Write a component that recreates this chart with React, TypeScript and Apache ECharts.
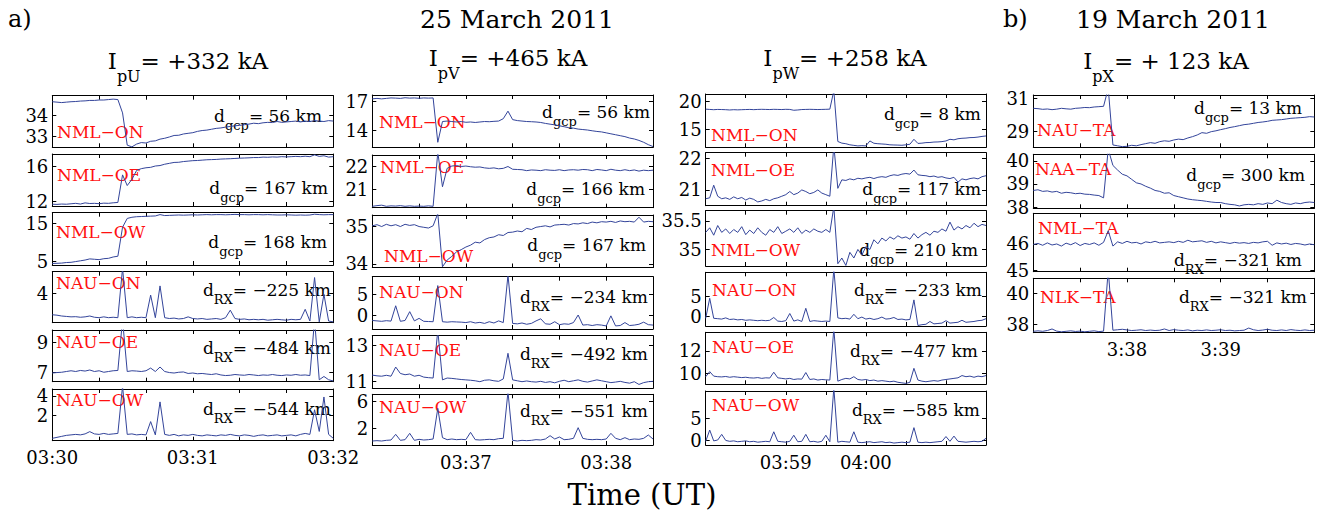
import React, { useEffect, useRef } from 'react';
import * as echarts from 'echarts';

const SERIF = 'DejaVu Serif';
const LINE_COLOR = '#33449a';
const RED = '#ff1010';

// ---------- time axes (seconds of day) ----------
const col1Start = 12600; const col1Step = 2; // 03:30:00, 2 s samples
const col2Start = 12980; const col2Step = 2; // 03:36:20
const col3Start = 14280; const col3Step = 3; // 03:58:00
const col4Start = 13020; const col4Step = 3; // 03:37:00

const col1Ticks = [12620, 12640, 12660, 12680, 12700];
const col2Ticks = [13000, 13020, 13040, 13060, 13080];
const col3Ticks = [14310, 14340, 14370, 14400, 14430, 14460];
const col4Ticks = [13050, 13080, 13110, 13140, 13170];

const col1Labels = [12600, 12660, 12720];
const col2Labels = [13020, 13080];
const col3Labels = [14340, 14400];
const col4Labels = [13080, 13140];

// ---------- column a1 (25 March 2011, U) ----------
const c1NmlOn = [
  34.62, 34.6, 34.58, 34.6, 34.62, 34.63, 34.65, 34.66, 34.68, 34.68,
  34.7, 34.7, 34.72, 34.74, 34.72, 34.1, 32.6, 32.52, 32.65, 32.72,
  32.7, 32.78, 32.8, 32.88, 32.92, 32.98, 33.05, 33.06, 33.12, 33.15,
  33.18, 33.24, 33.28, 33.3, 33.34, 33.38, 33.4, 33.44, 33.47, 33.5,
  33.52, 33.55, 33.58, 33.62, 33.6, 33.64, 33.66, 33.65, 33.7, 33.66,
  33.68, 33.7, 33.72, 33.68, 33.72, 33.7, 33.74, 33.72, 33.7, 33.74,
  33.72,
];
const c1NmlOe = [
  11.7, 11.68, 11.72, 11.7, 11.75, 11.8, 11.72, 11.85, 11.78, 11.8,
  11.76, 11.82, 11.8, 11.86, 11.9, 15.0, 13.8, 14.5, 15.5, 15.7,
  15.8, 15.85, 16.0, 16.05, 16.2, 16.3, 16.4, 16.42, 16.5, 16.55,
  16.6, 16.62, 16.66, 16.7, 16.72, 16.74, 16.78, 16.8, 16.82, 16.85,
  16.88, 16.9, 16.92, 16.95, 16.95, 17.0, 16.98, 17.02, 17.0, 17.05,
  17.02, 17.05, 17.08, 17.05, 17.1, 17.05, 17.25, 17.08, 17.15, 17.0,
  17.05,
];
const c1NmlOw = [
  4.5, 4.55, 4.6, 4.75, 4.8, 5.0, 5.2, 5.4, 5.7, 5.6,
  5.5, 5.75, 5.85, 6.2, 6.4, 14.0, 16.3, 16.6, 16.75, 16.8,
  16.85, 16.9, 16.95, 17.3, 17.05, 17.1, 17.15, 17.2, 17.15, 17.2,
  17.25, 17.2, 17.25, 17.3, 17.25, 17.3, 17.3, 17.25, 17.3, 17.35,
  17.3, 17.3, 17.25, 17.3, 17.3, 17.25, 17.3, 17.25, 17.2, 17.2,
  17.25, 17.2, 17.15, 17.2, 17.15, 17.2, 17.4, 17.3, 17.25, 17.3,
  17.3,
];
const c1NauOn = [
  1.45, 1.4, 1.3, 1.25, 1.2, 1.22, 1.15, 1.2, 1.3, 1.15,
  1.1, 1.2, 1.1, 1.15, 1.1, 7.0, 1.1, 1.2, 1.1, 1.15,
  1.1, 3.8, 1.1, 4.9, 1.1, 1.0, 1.05, 0.95, 1.0, 1.2,
  1.0, 0.95, 1.0, 0.9, 0.95, 1.0, 0.9, 1.1, 2.0, 1.0,
  0.9, 0.95, 0.85, 0.9, 0.85, 0.9, 0.8, 0.85, 0.9, 0.85,
  0.8, 0.9, 0.85, 0.9, 2.1, 0.7, 5.9, 0.6, 3.9, 0.7,
  0.6,
];
const c1NauOe = [
  6.95, 6.98, 7.0, 7.05, 7.1, 7.05, 7.12, 7.08, 7.15, 7.05,
  7.1, 7.0, 7.05, 7.1, 7.12, 10.5, 7.05, 7.1, 7.08, 7.05,
  7.1, 7.28, 7.05, 7.35, 7.05, 6.98, 6.95, 7.0, 7.02, 6.92,
  6.95, 6.9, 6.92, 6.88, 6.85, 6.9, 6.82, 6.78, 6.8, 6.85,
  6.82, 6.8, 6.85, 6.82, 6.78, 6.82, 6.8, 6.85, 6.8, 6.78,
  6.82, 6.8, 6.85, 6.8, 6.82, 6.78, 10.5, 6.5, 6.72, 6.5,
  6.42,
];
const c1NauOw = [
  -0.3, -0.2, -0.1, 0.0, 0.05, 0.1, 0.05, 0.15, 0.38, 0.15,
  0.1, 0.2, 0.1, 0.15, 0.2, 5.0, 0.1, 0.15, 0.05, 0.1,
  0.05, 1.4, 0.05, 3.4, 0.1, 0.0, 0.1, -0.05, 0.05, 0.0,
  0.1, 0.0, -0.05, 0.05, 0.0, -0.05, 0.05, 0.0, 0.1, 0.0,
  -0.05, 0.05, 0.0, -0.1, 0.0, 0.05, -0.05, 0.0, 0.05, -0.05,
  0.0, 0.05, -0.05, 0.1, 0.2, 0.1, 2.6, 0.4, 3.9, 0.1,
  -0.3,
];

// ---------- column a2 (25 March 2011, V) ----------
const c2NmlOn = [
  17.3, 17.35, 17.3, 17.35, 17.4, 17.38, 17.35, 17.42, 17.38, 17.4,
  17.36, 17.4, 17.38, 17.4, 12.7, 14.9, 14.95, 14.9, 14.85, 14.9,
  14.82, 14.85, 14.8, 14.85, 14.9, 14.88, 14.92, 14.95, 15.2, 16.0,
  15.1, 15.0, 14.95, 14.9, 14.88, 14.85, 14.8, 14.7, 14.62, 14.55,
  14.45, 14.35, 14.25, 14.2, 14.1, 14.05, 14.0, 13.92, 13.85, 13.8,
  13.7, 13.6, 13.5, 13.4, 13.3, 13.15, 13.05, 12.9, 12.7, 12.45,
  12.25,
];
const c2NmlOe = [
  20.25, 20.28, 20.3, 20.25, 20.27, 20.26, 20.28, 20.25, 20.27, 20.25,
  20.26, 20.25, 20.27, 20.25, 22.6, 21.1, 21.9, 22.0, 22.02, 21.98,
  22.0, 21.97, 21.95, 21.96, 21.92, 21.9, 21.92, 21.88, 21.9, 21.98,
  21.86, 21.85, 21.84, 21.8, 21.83, 21.82, 21.8, 21.84, 21.82, 21.81,
  21.84, 21.8, 21.83, 21.84, 21.82, 21.85, 21.84, 21.8, 21.85, 21.83,
  21.8, 21.86, 21.82, 21.8, 21.84, 21.8, 21.83, 21.78, 21.82, 21.8,
  21.82,
];
const c2NmlOw = [
  35.02, 35.05, 35.0, 35.06, 35.02, 35.05, 35.0, 35.06, 35.03, 35.05,
  35.0, 34.98, 34.96, 35.02, 35.35, 33.92, 34.1, 34.2, 34.32, 34.38,
  34.45, 34.5, 34.58, 34.56, 34.65, 34.7, 34.72, 34.78, 34.76, 34.84,
  34.85, 34.88, 34.86, 34.95, 34.92, 34.98, 35.0, 35.02, 34.99, 35.04,
  35.05, 35.06, 35.04, 35.08, 35.07, 35.1, 35.08, 35.12, 35.1, 35.13,
  35.12, 35.14, 35.11, 35.15, 35.13, 35.14, 35.12, 35.25, 35.12, 35.14,
  35.13,
];
const c2NauOn = [
  -1.3, -1.4, -1.5, -1.35, -1.45, 2.2, -1.5, -1.3, 0.8, -1.4,
  -0.8, -1.5, -1.55, -1.6, 7.0, -1.6, -1.7, -1.6, -1.65, -1.7,
  -1.8, -1.6, -1.9, -1.75, -2.0, -1.6, -1.9, -1.4, -1.8, 9.5,
  -2.0, -2.1, -1.9, -2.2, -2.0, -1.4, -0.9, -2.1, -2.2, -1.6,
  -2.3, -2.1, -2.2, -1.8, 0.0, -2.4, -2.3, -2.5, -2.3, -2.4,
  -2.6, -0.2, -2.6, -2.5, -1.8, -2.5, -2.4, -2.2, -1.7, -2.3,
  -2.4,
];
const c2NauOe = [
  11.36, 11.32, 11.3, 11.35, 11.3, 11.8, 11.45, 11.38, 11.42, 11.3,
  11.35, 11.25, 11.22, 11.2, 13.8, 11.1, 11.2, 11.18, 11.15, 11.12,
  11.1, 11.08, 11.05, 11.0, 11.08, 11.1, 11.05, 11.02, 11.15, 12.55,
  11.1, 11.05, 11.0, 11.04, 11.0, 10.98, 11.02, 10.96, 11.0, 10.94,
  11.02, 11.08, 11.0, 11.05, 11.1, 11.02, 10.98, 11.04, 11.1, 11.05,
  11.0, 10.95, 10.98, 11.02, 10.96, 10.92, 11.0, 10.85, 10.95, 11.0,
  11.02,
];
const c2NauOw = [
  0.1, 0.15, 0.1, 0.2, 0.25, 1.1, 0.2, 0.3, 1.25, 0.2,
  0.35, 0.25, 0.3, 0.4, 5.0, 0.6, 0.3, 0.4, 0.3, 0.35,
  0.3, 1.4, 0.3, 0.25, 0.3, 0.35, 0.3, 0.45, 0.5, 7.5,
  0.2, 0.1, 0.2, 0.15, 0.2, 0.3, 0.25, 0.4, 0.9, 0.4,
  0.7, 0.3, 0.35, 0.5, 2.1, 0.5, 0.35, 0.3, 0.35, 0.3,
  0.4, 1.25, 0.5, 0.3, 0.6, 0.3, 0.4, 0.35, 0.5, 1.0,
  0.4,
];

// ---------- column a3 (25 March 2011, W) ----------
const c3NmlOn = [
  18.65, 18.6, 18.55, 18.6, 18.58, 18.55, 18.5, 18.55, 18.52, 18.55,
  18.58, 18.6, 18.56, 18.6, 18.62, 18.6, 18.58, 18.62, 18.6, 18.58,
  18.62, 18.6, 18.45, 18.5, 18.58, 18.6, 18.62, 18.6, 18.58, 18.6,
  18.62, 18.65, 22.0, 12.8, 12.5, 12.4, 12.2, 12.1, 12.0, 12.05,
  12.0, 12.9, 12.48, 12.4, 12.35, 12.3, 12.2, 12.17, 12.15, 12.12,
  12.2, 12.3, 13.2, 12.45, 12.5, 12.6, 12.62, 12.7, 12.72, 12.78,
  12.9, 13.2, 13.1, 13.3, 13.38, 13.42, 13.5, 13.52, 13.6, 13.72,
  13.8,
];
const c3NmlOe = [
  20.72, 20.75, 21.15, 20.8, 20.72, 20.75, 20.7, 20.78, 20.72, 20.76,
  20.68, 20.74, 20.7, 20.62, 20.65, 20.7, 20.66, 20.72, 20.75, 20.8,
  20.85, 20.95, 20.85, 20.9, 21.0, 20.95, 20.88, 20.92, 21.0, 20.9,
  20.85, 20.8, 22.4, 21.05, 21.32, 21.3, 21.35, 21.32, 21.37, 21.35,
  21.38, 21.4, 21.36, 21.4, 21.42, 21.4, 21.45, 21.48, 21.46, 21.5,
  21.52, 21.5, 21.63, 21.48, 21.46, 21.45, 21.42, 21.44, 21.4, 21.42,
  21.38, 21.36, 21.4, 21.25, 21.35, 21.32, 21.36, 21.38, 21.35, 21.42,
  21.45,
];
const c3NmlOw = [
  35.3, 35.38, 35.25, 35.42, 35.3, 35.36, 35.28, 35.35, 35.3, 35.4,
  35.26, 35.34, 35.28, 35.38, 35.3, 35.25, 35.35, 35.3, 35.4, 35.28,
  35.32, 35.36, 35.3, 35.38, 35.28, 35.34, 35.3, 35.36, 35.32, 35.3,
  35.35, 35.3, 35.75, 34.75, 34.85, 34.72, 34.95, 34.85, 35.0, 34.9,
  35.05, 35.0, 35.17, 35.1, 35.2, 35.15, 35.22, 35.18, 35.24, 35.2,
  35.22, 35.18, 35.28, 35.2, 35.26, 35.3, 35.25, 35.32, 35.3, 35.36,
  35.32, 35.48, 35.34, 35.4, 35.36, 35.42, 35.38, 35.46, 35.4, 35.44,
  35.42,
];
const c3NauOn = [
  -0.4, 4.6, -0.4, -0.5, -0.6, -0.3, -0.7, -0.6, -0.8, -0.7,
  -0.9, -0.8, -0.9, -1.0, -0.9, -1.0, -0.9, -0.2, -1.1, -1.2,
  -1.0, 0.8, -1.1, -0.8, -1.2, 2.1, -1.2, -1.0, -1.1, -1.2,
  -1.1, -1.2, 12.0, -0.3, -0.5, -0.4, -0.6, 0.6, -0.5, -0.1,
  -0.6, -0.4, -0.7, -0.5, -0.1, -0.6, -0.5, -0.2, -0.7, -0.6,
  -0.8, -0.7, 4.2, -2.2, -2.0, -1.9, -1.2, -1.8, -1.7, -1.6,
  -1.0, -1.6, -1.5, -1.4, -0.9, -1.4, -1.3, -1.2, -1.0, -0.9,
  -0.5,
];
const c3NauOe = [
  9.7, 10.15, 9.75, 9.7, 9.68, 9.72, 9.65, 9.7, 9.66, 9.62,
  9.65, 9.6, 9.58, 9.62, 9.55, 9.6, 9.58, 10.1, 9.6, 9.55,
  9.5, 9.55, 9.45, 9.5, 9.48, 10.07, 9.45, 9.5, 9.4, 9.45,
  9.42, 9.4, 14.0, 9.3, 9.45, 9.55, 9.5, 9.7, 9.45, 9.4,
  9.45, 9.35, 9.4, 9.3, 9.35, 9.3, 9.25, 9.3, 9.2, 9.15,
  9.1, 9.2, 10.45, 9.4, 9.3, 9.25, 9.3, 9.35, 9.3, 9.4,
  9.45, 9.5, 9.55, 9.6, 9.8, 9.7, 9.75, 9.65, 9.75, 9.7,
  9.8,
];
const c3NauOw = [
  -0.3, 2.3, -0.2, 0.0, 1.3, -0.1, -0.3, -0.2, -0.4, -0.3,
  -0.2, -0.4, -0.3, -0.5, -0.4, -0.3, -0.4, 1.9, -0.3, -0.4,
  -0.5, -0.3, 1.1, -0.4, -0.3, 1.3, -0.4, -0.3, -0.5, -0.3,
  1.1, -0.4, 12.0, -0.5, -0.3, -0.4, -0.5, 1.9, -0.5, -0.6,
  -0.5, -0.4, -0.6, -0.5, -0.4, -0.6, -0.5, -0.7, -0.6, -0.5,
  -0.6, -0.5, 2.85, -0.5, -0.6, -0.5, -0.6, -0.5, -0.4, -0.3,
  0.8, -0.3, 0.9, -0.3, -0.4, -0.5, -0.4, -0.3, -0.4, -0.3,
  0.4,
];

// ---------- column b (19 March 2011, X) ----------
const c4NauTa = [
  30.4, 30.38, 30.34, 30.36, 30.32, 30.35, 30.4, 30.37, 30.35, 30.4,
  30.42, 30.45, 30.44, 30.48, 30.5, 30.52, 31.6, 28.2, 28.15, 28.1,
  28.12, 28.18, 28.15, 28.22, 28.28, 28.34, 28.3, 28.4, 28.45, 28.42,
  28.5, 28.55, 28.52, 28.62, 28.7, 28.8, 28.94, 28.9, 29.0, 29.05,
  29.12, 29.18, 29.25, 29.3, 29.36, 29.42, 29.45, 29.5, 29.55, 29.58,
  29.62, 29.68, 29.7, 29.72, 29.76, 29.8, 29.82, 29.84, 29.86, 29.9,
  29.88,
];
const c4NaaTa = [
  38.72, 38.75, 38.68, 38.7, 38.65, 38.68, 38.6, 38.64, 38.62, 38.58,
  38.6, 38.56, 38.55, 38.52, 38.5, 38.4, 40.5, 39.8, 39.6, 39.42,
  39.35, 39.2, 39.05, 39.0, 38.9, 38.82, 38.72, 38.68, 38.6, 38.62,
  38.5, 38.45, 38.4, 38.35, 38.32, 38.3, 38.28, 38.25, 38.22, 38.2,
  38.2, 38.15, 38.12, 38.1, 38.05, 38.1, 38.12, 38.1, 38.15, 38.12,
  38.18, 38.15, 38.3, 38.2, 38.15, 38.12, 38.18, 38.15, 38.2, 38.22,
  38.2,
];
const c4NmlTa = [
  45.98, 46.02, 45.95, 46.04, 45.96, 46.0, 45.92, 46.03, 45.97, 46.05,
  45.94, 46.02, 45.98, 46.04, 45.95, 46.06, 46.5, 45.92, 46.08, 46.02,
  46.1, 46.04, 46.06, 46.0, 46.08, 46.05, 46.1, 46.04, 46.06, 46.08,
  46.05, 46.1, 46.06, 46.14, 46.08, 46.1, 46.12, 46.06, 46.1, 46.04,
  46.08, 46.05, 46.02, 46.06, 46.03, 46.05, 46.02, 46.06, 46.04, 46.08,
  46.1, 45.95, 46.04, 46.0, 46.03, 45.98, 46.02, 46.0, 45.96, 46.0,
  45.97,
];
const c4NlkTa = [
  37.55, 37.58, 37.55, 37.6, 37.7, 37.56, 37.52, 37.55, 37.58, 37.54,
  37.56, 37.52, 37.55, 37.58, 37.53, 37.56, 41.5, 37.62, 37.65, 37.68,
  37.64, 37.6, 37.62, 37.65, 37.6, 37.63, 37.6, 37.62, 37.7, 37.6,
  37.66, 37.62, 37.6, 37.64, 37.58, 37.62, 37.6, 37.64, 37.6, 37.62,
  37.65, 37.6, 37.62, 37.58, 37.6, 37.62, 37.76, 37.65, 37.6, 37.63,
  37.68, 37.62, 37.6, 37.64, 37.6, 37.66, 37.62, 37.6, 37.64, 37.6,
  37.62,
];

// ---------- layout ----------
const MINUS = '\u2212';
const TICK_FONT = 18;
const STATION_FONT = 17;
const D_FONT = 17;
const D_SUB_FONT = 13;

type Col = { start: number; step: number; min: number; max: number; ticks: number[]; labels: number[]; pad: boolean; left: number; width: number };
const COLS: Col[] = [
  { start: col1Start, step: col1Step, min: 12600, max: 12720, ticks: col1Ticks, labels: col1Labels, pad: true, left: 52.3, width: 281 },
  { start: col2Start, step: col2Step, min: 12980, max: 13100, ticks: col2Ticks, labels: col2Labels, pad: true, left: 372.3, width: 280.7 },
  { start: col3Start, step: col3Step, min: 14280, max: 14490, ticks: col3Ticks, labels: col3Labels, pad: true, left: 705.7, width: 280.3 },
  { start: col4Start, step: col4Step, min: 13020, max: 13200, ticks: col4Ticks, labels: col4Labels, pad: false, left: 1033.3, width: 281 },
];

type Panel = {
  col: number; top: number; h: number; yMin: number; yMax: number; yTicks: number[];
  values: number[]; station: string; sx: number; sy: number;
  dSub: string; dVal: string; dx: number; dy: number; bottom?: boolean;
};

const PANELS: Panel[] = [
  { col: 0, top: 95.7, h: 51.6, yMin: 32.5, yMax: 34.9, yTicks: [33, 34], values: c1NmlOn, station: 'NML' + MINUS + 'ON', sx: 57, sy: 132, dSub: 'gcp', dVal: '56 km', dx: 322, dy: 116 },
  { col: 0, top: 154, h: 52, yMin: 11.5, yMax: 17.35, yTicks: [12, 16], values: c1NmlOe, station: 'NML' + MINUS + 'OE', sx: 57, sy: 175, dSub: 'gcp', dVal: '167 km', dx: 328, dy: 188 },
  { col: 0, top: 212.7, h: 52.3, yMin: 4.1, yMax: 17.8, yTicks: [5, 15], values: c1NmlOw, station: 'NML' + MINUS + 'OW', sx: 56, sy: 232, dSub: 'gcp', dVal: '168 km', dx: 327, dy: 242 },
  { col: 0, top: 271.7, h: 51, yMin: 0.5, yMax: 6.6, yTicks: [2, 4], values: c1NauOn, station: 'NAU' + MINUS + 'ON', sx: 56, sy: 283, dSub: 'RX', dVal: MINUS + '225 km', dx: 331, dy: 290 },
  { col: 0, top: 330, h: 51.7, yMin: 6.37, yMax: 9.82, yTicks: [7, 9], values: c1NauOe, station: 'NAU' + MINUS + 'OE', sx: 56, sy: 342, dSub: 'RX', dVal: MINUS + '484 km', dx: 331, dy: 348 },
  { col: 0, top: 389, h: 51.7, yMin: -0.54, yMax: 4.71, yTicks: [2, 4], values: c1NauOw, station: 'NAU' + MINUS + 'OW', sx: 56, sy: 400, dSub: 'RX', dVal: MINUS + '544 km', dx: 331, dy: 409, bottom: true },

  { col: 1, top: 95, h: 52.3, yMin: 12.17, yMax: 17.71, yTicks: [14, 17], values: c2NmlOn, station: 'NML' + MINUS + 'ON', sx: 379, sy: 122, dSub: 'gcp', dVal: '56 km', dx: 650, dy: 112 },
  { col: 1, top: 155, h: 52.7, yMin: 20.19, yMax: 22.48, yTicks: [21, 22], values: c2NmlOe, station: 'NML' + MINUS + 'OE', sx: 380, sy: 167, dSub: 'gcp', dVal: '166 km', dx: 645, dy: 189 },
  { col: 1, top: 215, h: 52.5, yMin: 33.9, yMax: 35.31, yTicks: [34, 35], values: c2NmlOw, station: 'NML' + MINUS + 'OW', sx: 384, sy: 256, dSub: 'gcp', dVal: '167 km', dx: 646, dy: 245 },
  { col: 1, top: 276.7, h: 52.3, yMin: -3.33, yMax: 9.12, yTicks: [0, 5], values: c2NauOn, station: 'NAU' + MINUS + 'ON', sx: 379, sy: 292, dSub: 'RX', dVal: MINUS + '234 km', dx: 648, dy: 297 },
  { col: 1, top: 335.7, h: 52.6, yMin: 10.64, yMax: 13.51, yTicks: [11, 13], values: c2NauOe, station: 'NAU' + MINUS + 'OE', sx: 379, sy: 350, dSub: 'RX', dVal: MINUS + '492 km', dx: 648, dy: 354 },
  { col: 1, top: 394.3, h: 50.7, yMin: -0.5, yMax: 7.11, yTicks: [2, 6], values: c2NauOw, station: 'NAU' + MINUS + 'OW', sx: 379, sy: 407, dSub: 'RX', dVal: MINUS + '551 km', dx: 648, dy: 411, bottom: true },

  { col: 2, top: 94, h: 53.3, yMin: 11.75, yMax: 21.39, yTicks: [15, 20], values: c3NmlOn, station: 'NML' + MINUS + 'ON', sx: 711, sy: 135, dSub: 'gcp', dVal: '8 km', dx: 981, dy: 114 },
  { col: 2, top: 152.7, h: 53, yMin: 20.5, yMax: 22.18, yTicks: [21, 22], values: c3NmlOe, station: 'NML' + MINUS + 'OE', sx: 711, sy: 170, dSub: 'gcp', dVal: '117 km', dx: 981, dy: 189 },
  { col: 2, top: 210.7, h: 55.3, yMin: 34.71, yMax: 35.68, yTicks: [35, 35.5], values: c3NmlOw, station: 'NML' + MINUS + 'OW', sx: 711, sy: 250, dSub: 'gcp', dVal: '210 km', dx: 978, dy: 250 },
  { col: 2, top: 272.3, h: 53.7, yMin: -2.33, yMax: 11.1, yTicks: [0, 5], values: c3NauOn, station: 'NAU' + MINUS + 'ON', sx: 712, sy: 290, dSub: 'RX', dVal: MINUS + '233 km', dx: 982, dy: 290 },
  { col: 2, top: 332.3, h: 52, yMin: 9.02, yMax: 13.67, yTicks: [10, 12], values: c3NauOe, station: 'NAU' + MINUS + 'OE', sx: 712, sy: 347, dSub: 'RX', dVal: MINUS + '477 km', dx: 978, dy: 351 },
  { col: 2, top: 391, h: 54, yMin: -1.15, yMax: 11.3, yTicks: [0, 5], values: c3NauOw, station: 'NAU' + MINUS + 'OW', sx: 712, sy: 405, dSub: 'RX', dVal: MINUS + '585 km', dx: 980, dy: 410, bottom: true },

  { col: 3, top: 95, h: 52.3, yMin: 28.06, yMax: 31.2, yTicks: [29, 31], values: c4NauTa, station: 'NAU' + MINUS + 'TA', sx: 1037, sy: 130, dSub: 'gcp', dVal: '13 km', dx: 1302, dy: 108 },
  { col: 3, top: 154.3, h: 54, yMin: 37.95, yMax: 40.28, yTicks: [38, 39, 40], values: c4NaaTa, station: 'NAA' + MINUS + 'TA', sx: 1035, sy: 169, dSub: 'gcp', dVal: '300 km', dx: 1305, dy: 175 },
  { col: 3, top: 213.3, h: 58.4, yMin: 44.95, yMax: 47.16, yTicks: [45, 46], values: c4NmlTa, station: 'NML' + MINUS + 'TA', sx: 1038, sy: 228, dSub: 'RX', dVal: MINUS + '321 km', dx: 1302, dy: 260 },
  { col: 3, top: 278.3, h: 54.4, yMin: 37.46, yMax: 40.97, yTicks: [38, 40], values: c4NlkTa, station: 'NLK' + MINUS + 'TA', sx: 1040, sy: 297, dSub: 'RX', dVal: MINUS + '321 km', dx: 1307, dy: 297, bottom: true },
];

function fmtTime(v: number, pad: boolean): string {
  const h = Math.floor(v / 3600);
  const m = Math.round((v - h * 3600) / 60);
  const hs = pad ? String(h).padStart(2, '0') : String(h);
  return hs + ':' + String(m).padStart(2, '0');
}

function subText(x: number, y: number, main: string, sub: string, rest: string, size: number, subSize: number, lh: number, align: string) {
  return {
    type: 'text', x, y, silent: true,
    style: {
      text: `{m|${main}}{s|${sub}}{m|${rest}}`,
      align, verticalAlign: 'middle',
      fontFamily: SERIF,
      rich: {
        m: { fontSize: size, fontFamily: SERIF, fill: '#000', lineHeight: lh, verticalAlign: 'middle' },
        s: { fontSize: subSize, fontFamily: SERIF, fill: '#000', lineHeight: subSize + 2, verticalAlign: 'bottom' },
      },
    },
  };
}

function plainText(x: number, y: number, text: string, size: number, align: string, fill = '#000', family = SERIF) {
  return { type: 'text', x, y, silent: true, style: { text, fontSize: size, fontFamily: family, fill, align, verticalAlign: 'middle' } };
}

function buildOption() {
  const grid: any[] = [];
  const xAxis: any[] = [];
  const yAxis: any[] = [];
  const series: any[] = [];
  const graphic: any[] = [];
  const axisLine = { show: true, onZero: false, lineStyle: { color: '#000', width: 1 } };

  PANELS.forEach((p, i) => {
    const c = COLS[p.col];
    grid.push({ left: c.left, top: p.top, width: c.width, height: p.h, outerBoundsMode: 'none', containLabel: false });
    const tick = { show: true, inside: true, length: 4, customValues: c.ticks, lineStyle: { color: '#000', width: 1 } };
    xAxis.push({
      type: 'value', gridIndex: i, position: 'bottom', min: c.min, max: c.max,
      axisLine, axisTick: tick, splitLine: { show: false },
      axisLabel: {
        show: !!p.bottom, customValues: c.labels, formatter: (v: number) => fmtTime(v, c.pad),
        fontFamily: SERIF, fontSize: TICK_FONT, color: '#000', margin: 8,
      },
    });
    xAxis.push({
      type: 'value', gridIndex: i, position: 'top', min: c.min, max: c.max,
      axisLine, axisTick: tick, splitLine: { show: false }, axisLabel: { show: false },
    });
    const ytick = { show: true, inside: true, length: 4, customValues: p.yTicks, lineStyle: { color: '#000', width: 1 } };
    yAxis.push({
      type: 'value', gridIndex: i, position: 'left', min: p.yMin, max: p.yMax,
      axisLine, axisTick: ytick, splitLine: { show: false },
      axisLabel: { show: true, customValues: p.yTicks, fontFamily: SERIF, fontSize: TICK_FONT, color: '#000', margin: 4 },
    });
    yAxis.push({
      type: 'value', gridIndex: i, position: 'right', min: p.yMin, max: p.yMax,
      axisLine, axisTick: ytick, splitLine: { show: false }, axisLabel: { show: false },
    });
    series.push({
      type: 'line', xAxisIndex: 2 * i, yAxisIndex: 2 * i,
      data: p.values.map((v, k) => [c.start + k * c.step, v]),
      showSymbol: false, symbol: 'none', clip: true,
      lineStyle: { color: LINE_COLOR, width: 1 }, silent: true,
    });
    graphic.push(plainText(p.sx, p.sy, p.station, STATION_FONT, 'left', RED));
    graphic.push(subText(p.dx, p.dy, 'd', p.dSub, '= ' + p.dVal, D_FONT, D_SUB_FONT, 32, 'right'));
  });

  graphic.push(plainText(8, 19, 'a)', 24, 'left'));
  graphic.push(plainText(517, 19, '25 March 2011', 25, 'center'));
  graphic.push(plainText(1003, 19, 'b)', 24, 'left'));
  graphic.push(plainText(1173, 19, '19 March 2011', 25, 'center'));
  graphic.push(subText(188, 61, 'I', 'pU', '= +332 kA', 23, 16, 46, 'center'));
  graphic.push(subText(508, 58, 'I', 'pV', '= +465 kA', 23, 16, 46, 'center'));
  graphic.push(subText(845, 58, 'I', 'pW', '= +258 kA', 23, 16, 46, 'center'));
  graphic.push(subText(1166, 61, 'I', 'pX', '= + 123 kA', 23, 16, 46, 'center'));
  graphic.push(plainText(642, 495, 'Time (UT)', 29, 'center'));

  return { animation: false, backgroundColor: '#fff', textStyle: { fontFamily: SERIF }, grid, xAxis, yAxis, series, graphic };
}

export default function App() {
  const ref = useRef<HTMLDivElement>(null);
  useEffect(() => {
    if (!ref.current) return;
    const chart = echarts.init(ref.current, undefined, { renderer: 'svg' });
    chart.setOption(buildOption() as any);
    return () => chart.dispose();
  }, []);
  return <div ref={ref} style={{ position: 'absolute', left: 0, top: 0, width: 1319, height: 518, background: '#fff' }} />;
}
